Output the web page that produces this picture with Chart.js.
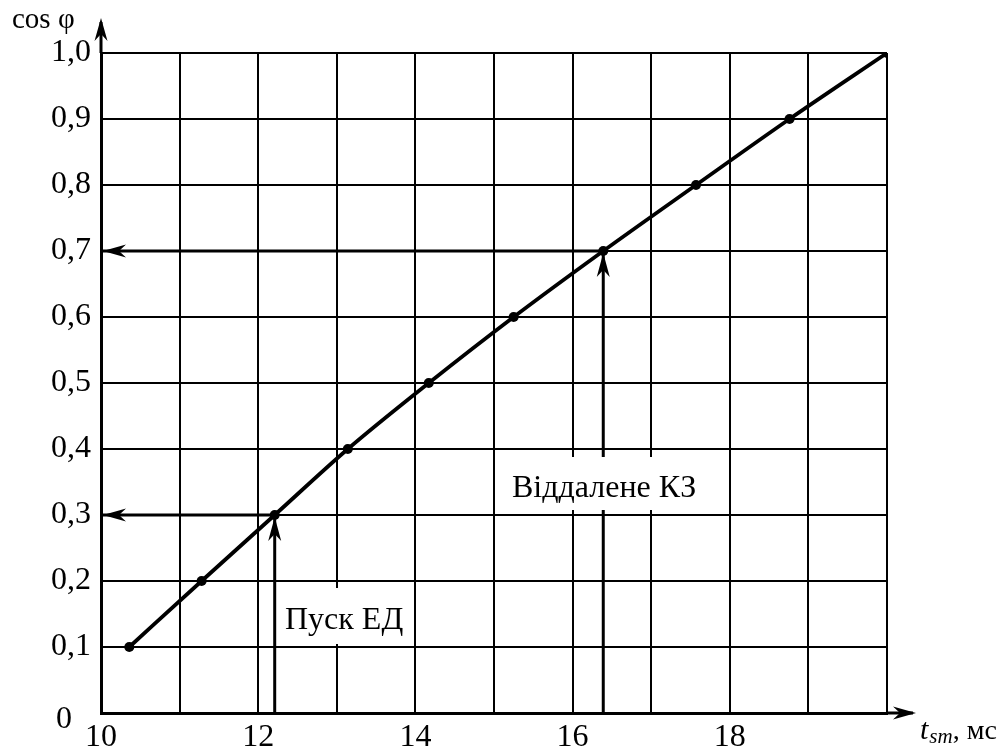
<!DOCTYPE html>
<html>
<head>
<meta charset="utf-8">
<script src="https://cdn.jsdelivr.net/npm/chart.js@4.4.1/dist/chart.umd.min.js"></script>
<style>
html,body{margin:0;padding:0;background:#fff;}
#wrap{width:1007px;height:751px;}
</style>
</head>
<body>
<div id="wrap"><canvas id="c" width="1007" height="751"></canvas></div>
<script>
// ---- data ----
const tsm = [10.36, 11.28, 12.21, 13.14, 14.17, 15.25, 16.39, 17.57, 18.76, 20.0];
const cosPhi = [0.1, 0.2, 0.3, 0.4, 0.5, 0.6, 0.7, 0.8, 0.9, 1.0];
const xTicks = [10, 11, 12, 13, 14, 15, 16, 17, 18, 19, 20];
const xTickLabels = ['10', '', '12', '', '14', '', '16', '', '18', '', ''];
const yTicks = [0, 0.1, 0.2, 0.3, 0.4, 0.5, 0.6, 0.7, 0.8, 0.9, 1.0];
const yTickLabels = ['', '0,1', '0,2', '0,3', '0,4', '0,5', '0,6', '0,7', '0,8', '0,9', '1,0'];
const puskX = 12.21, puskY = 0.3;   // Пуск ЕД
const kzX = 16.39, kzY = 0.7;       // Віддалене КЗ
const labelPusk = 'Пуск ЕД';
const labelKZ = 'Віддалене КЗ';
const yTitle = 'cos φ';

const SERIF = '"Liberation Serif", "DejaVu Serif", serif';

const curve = tsm.map((v, i) => ({x: v, y: cosPhi[i]}));

function lineDs(pts, w) {
  return {data: pts, showLine: true, borderColor: '#000', borderWidth: w,
          pointRadius: 0, tension: 0, fill: false};
}

function arrowHead(ctx, tx, ty, dirx, diry, len, half, notch) {
  const px = -diry, py = dirx;
  const bx = tx - dirx * len, by = ty - diry * len;
  const nx = tx - dirx * notch, ny = ty - diry * notch;
  ctx.beginPath();
  ctx.moveTo(tx, ty);
  ctx.lineTo(bx + px * half, by + py * half);
  ctx.lineTo(nx, ny);
  ctx.lineTo(bx - px * half, by - py * half);
  ctx.closePath();
  ctx.fillStyle = '#000';
  ctx.fill();
}

const annot = {
  id: 'annot',
  afterDatasetsDraw(chart) {
    const {ctx, chartArea: a, scales: {x, y}} = chart;
    ctx.save();
    ctx.strokeStyle = '#000';
    ctx.lineWidth = 3;
    ctx.beginPath();
    ctx.moveTo(a.left, a.top);
    ctx.lineTo(a.left, 22);
    ctx.moveTo(a.right, a.bottom);
    ctx.lineTo(a.right + 26, a.bottom);
    ctx.stroke();
    arrowHead(ctx, a.left, 18, 0, -1, 23, 6.5, 16);
    arrowHead(ctx, a.right + 29, a.bottom, 1, 0, 23, 6.5, 16);

    const px1 = x.getPixelForValue(puskX), py1 = y.getPixelForValue(puskY);
    const px2 = x.getPixelForValue(kzX), py2 = y.getPixelForValue(kzY);
    arrowHead(ctx, px1, py1 + 2, 0, -1, 24, 6.5, 17);
    arrowHead(ctx, px2, py2 + 2, 0, -1, 24, 6.5, 17);
    arrowHead(ctx, a.left + 2, py1, -1, 0, 23, 6.5, 16);
    arrowHead(ctx, a.left + 2, py2, -1, 0, 23, 6.5, 16);

    ctx.font = '32px ' + SERIF;
    ctx.textBaseline = 'alphabetic';
    ctx.textAlign = 'left';
    ctx.fillStyle = '#fff';
    ctx.fillRect(280, 588, 130, 56);
    ctx.fillRect(500, 457, 212, 53);
    ctx.fillStyle = '#000';
    ctx.fillText(labelPusk, 285, 629);
    ctx.fillText(labelKZ, 512, 497);

    ctx.textAlign = 'center';
    ctx.fillText('0', 64, 728);

    ctx.font = '29px ' + SERIF;
    ctx.textAlign = 'left';
    ctx.fillText(yTitle, 12, 28);

    let cx = 920;
    ctx.font = 'italic 30px ' + SERIF;
    ctx.fillText('t', cx, 739);
    cx += ctx.measureText('t').width + 1;
    ctx.font = 'italic 21px ' + SERIF;
    ctx.fillText('sm', cx, 743);
    cx += ctx.measureText('sm').width;
    ctx.font = '28px ' + SERIF;
    ctx.fillText(', мс', cx, 739);
    ctx.restore();
  }
};

new Chart(document.getElementById('c'), {
  type: 'scatter',
  data: {
    datasets: [
      {data: curve, showLine: true, borderColor: '#000', backgroundColor: '#000',
       borderWidth: 3.8, pointRadius: 5, pointBackgroundColor: '#000', pointBorderWidth: 0,
       cubicInterpolationMode: 'monotone', fill: false},
      lineDs([{x: xTicks[0], y: puskY}, {x: puskX, y: puskY}], 3),
      lineDs([{x: puskX, y: yTicks[0]}, {x: puskX, y: puskY}], 3),
      lineDs([{x: xTicks[0], y: kzY}, {x: kzX, y: kzY}], 3),
      lineDs([{x: kzX, y: yTicks[0]}, {x: kzX, y: kzY}], 3)
    ]
  },
  options: {
    responsive: false,
    animation: false,
    devicePixelRatio: 1,
    layout: {padding: {left: 0, top: 53, right: 120, bottom: 0}},
    plugins: {legend: {display: false}, tooltip: {enabled: false}},
    scales: {
      x: {
        type: 'linear', min: xTicks[0], max: xTicks[xTicks.length - 1],
        afterBuildTicks(s) { s.ticks = xTicks.map(v => ({value: v})); },
        afterFit(s) { s.height = 38; },
        grid: {color: '#000', lineWidth: 2, drawTicks: false, tickLength: 0},
        border: {color: '#000', width: 3},
        ticks: {
          color: '#000', padding: 5, maxRotation: 0, autoSkip: false,
          font: {family: SERIF, size: 32},
          callback(v) { const i = xTicks.indexOf(v); return i >= 0 ? xTickLabels[i] : ''; }
        }
      },
      y: {
        type: 'linear', min: yTicks[0], max: yTicks[yTicks.length - 1],
        afterBuildTicks(s) { s.ticks = yTicks.map(v => ({value: v})); },
        afterFit(s) { s.width = 101; },
        grid: {color: '#000', lineWidth: 2, drawTicks: false, tickLength: 0},
        border: {color: '#000', width: 3},
        ticks: {
          color: '#000', padding: 10, autoSkip: false,
          font: {family: SERIF, size: 32},
          callback(v) {
            const i = yTicks.findIndex(t => Math.abs(t - v) < 1e-9);
            return i >= 0 ? yTickLabels[i] : '';
          }
        }
      }
    }
  },
  plugins: [annot]
});
</script>
</body>
</html>
